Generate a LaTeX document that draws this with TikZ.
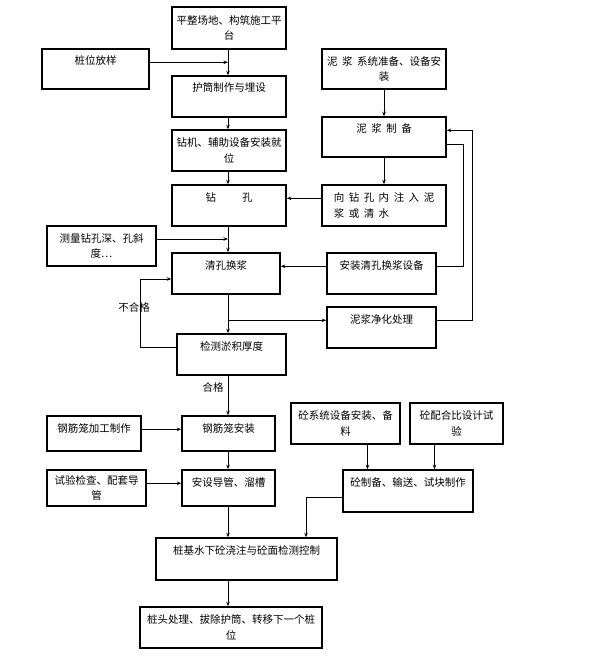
\documentclass[tikz,border=0pt]{standalone}
\usepackage{fontspec}
\setmainfont{Noto Sans CJK SC}
\usetikzlibrary{arrows.meta}
\newcommand{\zg}{\hspace{4.5pt}}

\begin{document}
\begin{tikzpicture}[x=1pt, y=-1pt, >={Stealth[length=4.5pt, width=3.5pt]},
    box/.style={draw, line width=1.5pt, inner sep=3pt, align=center, font=\fontsize{10.5pt}{15.5pt}\selectfont},
    onebox/.style={box, text height=13pt, text depth=#1},
    flow/.style={->, line width=0.9pt},
    lbl/.style={font=\fontsize{10.5pt}{13pt}\selectfont, inner sep=1pt}]
    \useasboundingbox (0,0) rectangle (614,660);
    \coordinate (spine) at (228,0);

    % main column
    \node[box, minimum width=114pt, minimum height=42pt] (ptcd) at (229,28) {平整场地、构筑施工平\\台};
    \node[onebox=21pt, minimum width=107pt, minimum height=40pt] (zwfy) at (95.5,69) {桩位放样};
    \node[onebox=22pt, minimum width=114pt, minimum height=41pt] (hutong) at (229,96.5) {护筒制作与埋设};
    \node[box, minimum width=114pt, minimum height=41pt] (zuanji) at (229,150.5) {钻机、辅助设备安装就\\位};
    \node[onebox=22pt, minimum width=114pt, minimum height=41pt] (zuankong) at (229,205.5) {钻\hspace{26pt}孔};
    \node[box, minimum width=109pt, minimum height=40pt] (celiang) at (101.5,246) {测量钻孔深、孔斜\\度…};
    \node[onebox=22pt, minimum width=108pt, minimum height=41pt] (qingkong) at (226,273.5) {清孔换浆};
    \node[onebox=22pt, minimum width=109pt, minimum height=41pt] (jiance) at (231.5,354.5) {检测淤积厚度};
    \node[onebox=16pt, minimum width=94pt, minimum height=35pt] (gjjg) at (94,433.5) {钢筋笼加工制作};
    \node[onebox=16pt, minimum width=93pt, minimum height=35pt] (gjaz) at (228.5,433.5) {钢筋笼安装};
    \node[box, minimum width=99pt, minimum height=36pt] (syjc) at (96.5,488) {试验检查、配套导\\管};
    \node[onebox=17pt, minimum width=93pt, minimum height=36pt] (daoguan) at (228.5,488) {安设导管、溜槽};
    \node[onebox=23pt, minimum width=181pt, minimum height=42pt] (guanzhu) at (246.5,559) {桩基水下砼浇注与砼面检测控制};
    \node[box, minimum width=182pt, minimum height=41pt] (zhuangtou) at (231,627.5) {桩头处理、拔除护筒、转移下一个桩\\位};

    % mud system
    \node[box, minimum width=124pt, minimum height=40pt] (njxt) at (384,69) {泥\zg 浆\zg 系统准备、设备安\\装};
    \node[onebox=21pt, minimum width=124pt, minimum height=40pt] (njzb) at (384,137) {泥\zg 浆\zg 制\zg 备};
    \node[box, align=left, minimum width=124pt, minimum height=41pt] (zhuru) at (384,205.5) {向\zg 钻\zg 孔\zg 内\zg 注\zg 入\zg 泥\\浆\zg 或\zg 清\zg 水};
    \node[onebox=22pt, minimum width=109pt, minimum height=41pt] (azsb) at (381.5,273.5) {安装清孔换浆设备};
    \node[onebox=22pt, minimum width=109pt, minimum height=41pt] (jinghua) at (381.5,327.5) {泥浆净化处理};

    % concrete
    \node[box, minimum width=109pt, minimum height=41pt] (tongxt) at (345.5,423.5) {砼系统设备安装、备\\料};
    \node[box, minimum width=93pt, minimum height=41pt] (peihe) at (456.5,423.5) {砼配合比设计试\\验};
    \node[onebox=23pt, minimum width=130pt, minimum height=42pt] (tongzb) at (408,491) {砼制备、输送、试块制作};

    \node[lbl, fill=white] (buhege) at (134,307) {不合格};
    \node[lbl] (hege) at (213,387) {合格};

    \draw[flow] (ptcd.south -| spine) -- (hutong.north -| spine);
    \draw[flow] (zwfy.mid east) -- (zwfy.mid east -| spine);
    \draw[flow] (hutong.south -| spine) -- (zuanji.north -| spine);
    \draw[flow] (zuanji.south -| spine) -- (zuankong.north -| spine);
    \draw[flow] (zhuru.west |- zuankong.mid east) -- (zuankong.mid east);
    \draw[flow] (zuankong.south -| spine) -- (qingkong.north -| spine);
    \draw[flow] ([yshift=7pt]celiang.east) -- ([yshift=7pt]celiang.east -| spine);
    \draw[flow] (azsb.mid west) -- (qingkong.mid east);
    \draw[flow] (qingkong.south -| spine) -- (jiance.north -| spine);
    \draw[flow] (jinghua.mid west -| spine) -- (jinghua.mid west);
    \draw[flow] (jiance.mid west) -- ++(-36,0) |- ([yshift=-5.5pt]qingkong.west);
    \draw[flow] (jiance.south -| spine) -- (gjaz.north -| spine);
    \draw[flow] (gjjg.mid east) -- (gjaz.mid west);
    \draw[flow] (gjaz.south -| spine) -- (daoguan.north -| spine);
    \draw[flow] (syjc.east |- daoguan.mid west) -- (daoguan.mid west);
    \draw[flow] (daoguan.south -| spine) -- (guanzhu.north -| spine);
    \draw[flow] (guanzhu.south -| spine) -- (zhuangtou.north -| spine);

    \draw[flow] (njxt) -- (njzb);
    \draw[flow] (njzb) -- (zhuru);
    \draw[flow] (jinghua.mid east) -- ++(36,0) |- (njzb.mid east);
    \draw[line width=0.9pt] ([yshift=-7pt]njzb.east) -- ++(17,0) |- (azsb.mid east);

    \draw[flow] ([xshift=22pt]tongxt.south) -- ([xshift=22pt]tongxt.south |- tongzb.north);
    \draw[flow] ([xshift=-22pt]peihe.south) -- ([xshift=-22pt]peihe.south |- tongzb.north);
    \draw[flow] ([yshift=-6pt]tongzb.west) -| ([xshift=59.5pt]guanzhu.north);
\end{tikzpicture}
\end{document}
